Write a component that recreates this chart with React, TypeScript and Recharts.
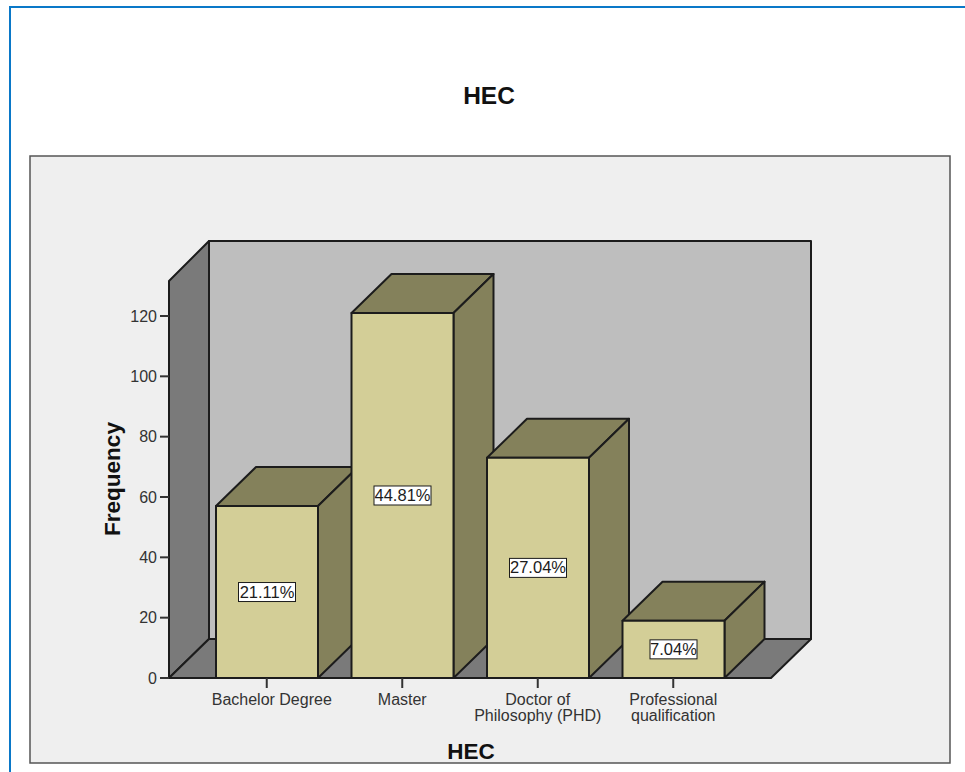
import React from "react";
import { BarChart, Bar, XAxis, YAxis, LabelList } from "recharts";

const categories = ["Bachelor Degree", "Master", "Doctor of Philosophy (PHD)", "Professional qualification"];
const tickLines = [["Bachelor Degree"], ["Master"], ["Doctor of", "Philosophy (PHD)"], ["Professional", "qualification"]];
const frequencies = [57, 121, 73, 19];
const percentLabels = ["21.11%", "44.81%", "27.04%", "7.04%"];
const yTicks = [0, 20, 40, 60, 80, 100, 120];

const rows = categories.map((name, i) => ({
  name,
  frequency: frequencies[i],
  percent: percentLabels[i],
}));

const WIDTH = 965;
const HEIGHT = 772;
const FONT = '"Liberation Sans", Arial, sans-serif';
const INK = "#1c1c1c";
const TEXT = "#333333";
const DEPTH_X = 40;
const DEPTH_Y = 39;

// Plot rectangle of the front plane; the walls sit one depth step behind it.
const LEFT = 169;
const RIGHT = 771;
const TOP = 281;
const BASE = 678;

const FRONT = "#D3CE97";
const SHADE = "#84815B";

const pts = (...p: number[][]) => p.map((q) => q.join(",")).join(" ");

// Front face, top face and side face of one box.
const Box3D = (props: any) => {
  const { x, y, width, height } = props;
  const r = x + width;
  const b = y + height;
  return (
    <g stroke={INK} strokeWidth={2} strokeLinejoin="round">
      <polygon
        fill={SHADE}
        points={pts([x, y], [x + DEPTH_X, y - DEPTH_Y], [r + DEPTH_X, y - DEPTH_Y], [r, y])}
      />
      <polygon
        fill={SHADE}
        points={pts([r, y], [r + DEPTH_X, y - DEPTH_Y], [r + DEPTH_X, b - DEPTH_Y], [r, b])}
      />
      <rect x={x} y={y} width={width} height={height} fill={FRONT} />
    </g>
  );
};

// Boxed percentage in the middle of the front face.
const PercentBox = (props: any) => {
  const { x, y, width, height, value } = props;
  const cx = x + width / 2;
  const cy = y + height / 2;
  const w = String(value).length > 5 ? 57 : 47;
  return (
    <g>
      <rect x={cx - w / 2} y={cy - 9.5} width={w} height={19} fill="#ffffff" stroke={INK} strokeWidth={1} />
      <text x={cx} y={cy + 5.5} textAnchor="middle" fontFamily={FONT} fontSize={16.5} fill={INK}>
        {value}
      </text>
    </g>
  );
};

const CategoryTick = (props: any) => {
  const { x, y, index } = props;
  const lines = tickLines[index] ?? [];
  // The single long label sits a little right of its tick.
  const shift = index === 0 ? 5 : 0;
  return (
    <text textAnchor="middle" fontFamily={FONT} fontSize={16} fill={TEXT}>
      {lines.map((line, i) => (
        <tspan key={line} x={x + shift} y={y + 11 + i * 16}>
          {line}
        </tspan>
      ))}
    </text>
  );
};

// Page frame, panel, chart walls and the titles, all behind the transparent bar chart.
const Backdrop = () => (
  <svg width={WIDTH} height={HEIGHT} style={{ position: "absolute", left: 0, top: 0 }}>
    <rect x={0} y={0} width={WIDTH} height={HEIGHT} fill="#ffffff" />
    <path d={`M10 ${HEIGHT} V7 H${WIDTH}`} fill="none" stroke="#0A78C8" strokeWidth={2} />
    <rect x={30} y={156} width={920} height={607} fill="#EFEFEF" stroke="#555555" strokeWidth={1.5} />
    <g stroke={INK} strokeWidth={2} strokeLinejoin="round">
      <rect x={LEFT + DEPTH_X} y={TOP - DEPTH_Y - 1} width={RIGHT - LEFT} height={BASE - TOP + 1} fill="#BEBEBE" />
      <polygon
        fill="#7A7A7A"
        points={pts([LEFT, TOP], [LEFT + DEPTH_X, TOP - DEPTH_Y - 1], [LEFT + DEPTH_X, BASE - DEPTH_Y], [LEFT, BASE])}
      />
      <polygon
        fill="#7A7A7A"
        points={pts([LEFT, BASE], [LEFT + DEPTH_X, BASE - DEPTH_Y], [RIGHT + DEPTH_X, BASE - DEPTH_Y], [RIGHT, BASE])}
      />
    </g>
    <text x={489} y={103.5} textAnchor="middle" fontFamily={FONT} fontWeight={700} fontSize={24.5} fill="#111111">
      HEC
    </text>
    <text x={471} y={759} textAnchor="middle" fontFamily={FONT} fontWeight={700} fontSize={22.5} fill="#111111">
      HEC
    </text>
    <text
      transform="translate(120 479) rotate(-90)"
      textAnchor="middle"
      fontFamily={FONT}
      fontWeight={700}
      fontSize={22.5}
      fill="#111111"
    >
      Frequency
    </text>
  </svg>
);

export default function App() {
  return (
    <div style={{ position: "absolute", left: 0, top: 0, width: WIDTH, height: HEIGHT, overflow: "hidden" }}>
      <Backdrop />
      <div style={{ position: "absolute", left: 0, top: 0 }}>
        <BarChart
          width={WIDTH}
          height={HEIGHT}
          data={rows}
          margin={{ top: TOP, right: WIDTH - RIGHT, bottom: 0, left: 0 }}
        >
          <XAxis
            dataKey="name"
            height={HEIGHT - BASE}
            padding={{ left: 30, right: 30 }}
            interval={0}
            tickSize={10}
            tickMargin={6}
            tickLine={{ stroke: "#333333", strokeWidth: 2 }}
            axisLine={{ stroke: INK, strokeWidth: 2 }}
            tick={<CategoryTick />}
          />
          <YAxis
            width={LEFT}
            domain={[0, 131.6]}
            ticks={yTicks}
            tickSize={9}
            tickMargin={3}
            tickLine={{ stroke: "#333333", strokeWidth: 2 }}
            axisLine={{ stroke: INK, strokeWidth: 2 }}
            tick={{ fontFamily: FONT, fontSize: 16, fill: TEXT }}
          />
          <Bar dataKey="frequency" barSize={102} shape={<Box3D />} isAnimationActive={false}>
            <LabelList dataKey="percent" content={<PercentBox />} />
          </Bar>
        </BarChart>
      </div>
    </div>
  );
}
